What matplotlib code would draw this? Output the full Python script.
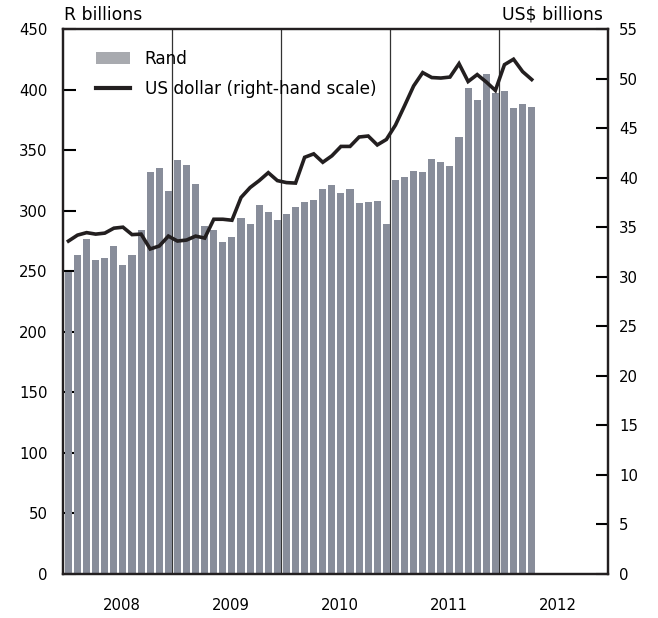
import matplotlib.pyplot as plt
import numpy as np
from matplotlib.patches import Patch
from matplotlib.lines import Line2D

plt.rcParams['font.family'] = ['DejaVu Sans']

# monthly data, Jan 2008 - Apr 2012
rand_bn = [249, 263, 277, 259, 261, 271, 255, 263, 284, 332, 335, 316,
           342, 338, 322, 287, 284, 274, 278, 294, 289, 305, 299, 292,
           297, 303, 307, 309, 318, 321, 315, 318, 306, 307, 308, 289,
           325, 328, 333, 332, 343, 340, 337, 361, 401, 391, 413, 397,
           399, 385, 388, 386]
usd_bn = [33.6, 34.2, 34.45, 34.3, 34.4, 34.9, 35.0, 34.25, 34.3, 32.8, 33.1, 34.1,
          33.6, 33.7, 34.1, 33.9, 35.8, 35.8, 35.7, 38.0, 39.0, 39.7, 40.5, 39.7,
          39.5, 39.45, 42.05, 42.4, 41.55, 42.2, 43.15, 43.15, 44.1, 44.2, 43.3, 43.85,
          45.3, 47.25, 49.25, 50.6, 50.1, 50.05, 50.15, 51.5, 49.7, 50.4, 49.65, 48.8,
          51.4, 51.95, 50.7, 49.9]
years = ['2008', '2009', '2010', '2011', '2012']

bar_color = '#888d9a'
line_color = '#231f20'

months = np.arange(len(rand_bn))
centers = months + 0.6

fig = plt.figure(figsize=(6.58, 6.18), dpi=100)
ax = fig.add_axes([63 / 658, 1 - 574 / 618, 545 / 658, 545 / 618])
ax2 = ax.twinx()

# year separators
for k in range(1, len(years)):
    ax.axvline(12 * k, color='#333333', lw=0.9, zorder=0)

ax.bar(centers, rand_bn, width=0.78, color=bar_color, zorder=2)
ax2.plot(centers, usd_bn, color=line_color, lw=2.6, solid_joinstyle='miter', zorder=3)

ax.set_xlim(0, 12 * len(years))
ax.set_ylim(0, 450)
ax2.set_ylim(0, 55)
ax.set_yticks(np.arange(0, 451, 50))
ax2.set_yticks(np.arange(0, 56, 5))
ax.set_xticks([12 * k + 6.5 for k in range(len(years))])
ax.set_xticklabels(years)

ax.tick_params(axis='y', direction='in', length=9, width=1.5, pad=11, labelsize=10.7)
ax2.tick_params(axis='y', direction='in', length=9, width=1.5, pad=8, labelsize=10.7)
ax.tick_params(axis='x', length=0, pad=17, labelsize=10.7)

for a in (ax, ax2):
    for s in a.spines.values():
        s.set_linewidth(1.6)
        s.set_color('#231f20')

fig.text(64 / 658, 1 - 15 / 618, 'R billions', ha='left', va='center', fontsize=12.4)
fig.text(603 / 658, 1 - 15 / 618, 'US$ billions', ha='right', va='center', fontsize=12.4)

handles = [Patch(facecolor='#a8aaaf', edgecolor='none'),
           Line2D([], [], color=line_color, lw=3)]
ax.legend(handles, ['Rand', 'US dollar (right-hand scale)'], loc='upper left',
          bbox_to_anchor=(0.06, 0.962), frameon=False, fontsize=12.2,
          borderpad=0, borderaxespad=0, handlelength=2.0, handleheight=0.75,
          handletextpad=0.9, labelspacing=0.75)

fig.savefig('out.png', dpi=100)
